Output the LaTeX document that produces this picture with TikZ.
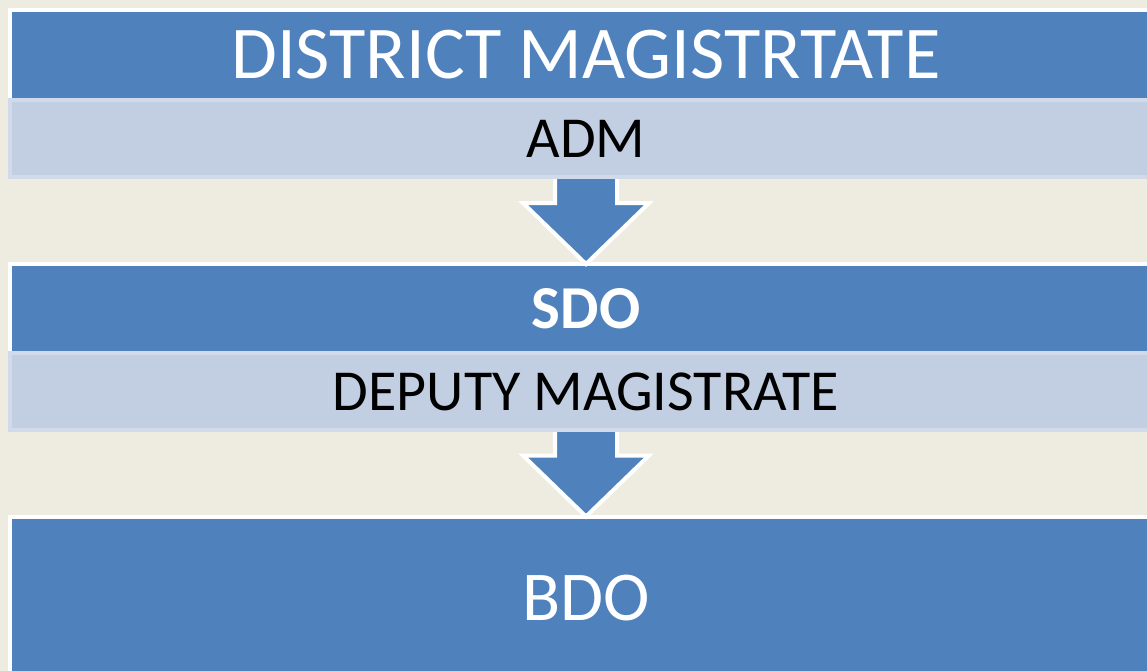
\documentclass[tikz,border=0pt]{standalone}
\usepackage{fontspec}
\setmainfont{Carlito}
\usetikzlibrary{calc}
\definecolor{slideblue}{HTML}{4F81BD}
\definecolor{slidelight}{HTML}{C2CFE3}
\definecolor{slideedge}{HTML}{D0DAEA}
\definecolor{slidebg}{HTML}{EEECE1}
\pgfdeclarelayer{front}
\pgfsetlayers{main,front}

\begin{document}
\begin{tikzpicture}[x=1pt, y=-1pt,
  bluebox/.style={draw=white, line width=4pt, fill=slideblue, text=white,
    inner sep=0pt, outer sep=0pt, minimum width=1152pt},
  lightbox/.style={draw=slideedge, line width=4pt, fill=slidelight, text=black,
    inner sep=0pt, outer sep=0pt, minimum width=1152pt, minimum height=77pt,
    font=\fontsize{58}{60}\selectfont},
  blockarrow/.style={draw=white, line width=4pt, fill=slideblue}]
  \fill[slidebg] (0,0) rectangle (1147,671);
  \useasboundingbox (0,0) rectangle (1147,671);
  % blue levels
  \node[bluebox, minimum height=90pt, font=\fontsize{74.5}{76}\selectfont] (dm) at (586,55) {DISTRICT MAGISTRTATE};
  \node[bluebox, minimum height=89pt, font=\fontsize{61}{63}\selectfont\bfseries] (sdo) at (586,308.5) {SDO};
  \node[bluebox, minimum height=164pt, font=\fontsize{70}{72}\selectfont] (bdo) at (586,598.5) {BDO};
  % light sub-levels
  \begin{pgfonlayer}{front}
    \node[lightbox] (adm) at (586,138.5) {ADM};
    \node[lightbox] (dep) at (586,391.5) {DEPUTY MAGISTRATE};
  \end{pgfonlayer}
  % down arrows
  \foreach \from/\to in {adm/sdo, dep/bdo}
    \draw[blockarrow] ([xshift=-31pt, yshift=6pt]\from.south)
      -- ([xshift=-31pt, yshift=61pt]\to.north)
      -- ([xshift=-63pt, yshift=61pt]\to.north)
      -- (\to.north)
      -- ([xshift=63pt, yshift=61pt]\to.north)
      -- ([xshift=31pt, yshift=61pt]\to.north)
      -- ([xshift=31pt, yshift=6pt]\from.south) -- cycle;
\end{tikzpicture}
\end{document}
